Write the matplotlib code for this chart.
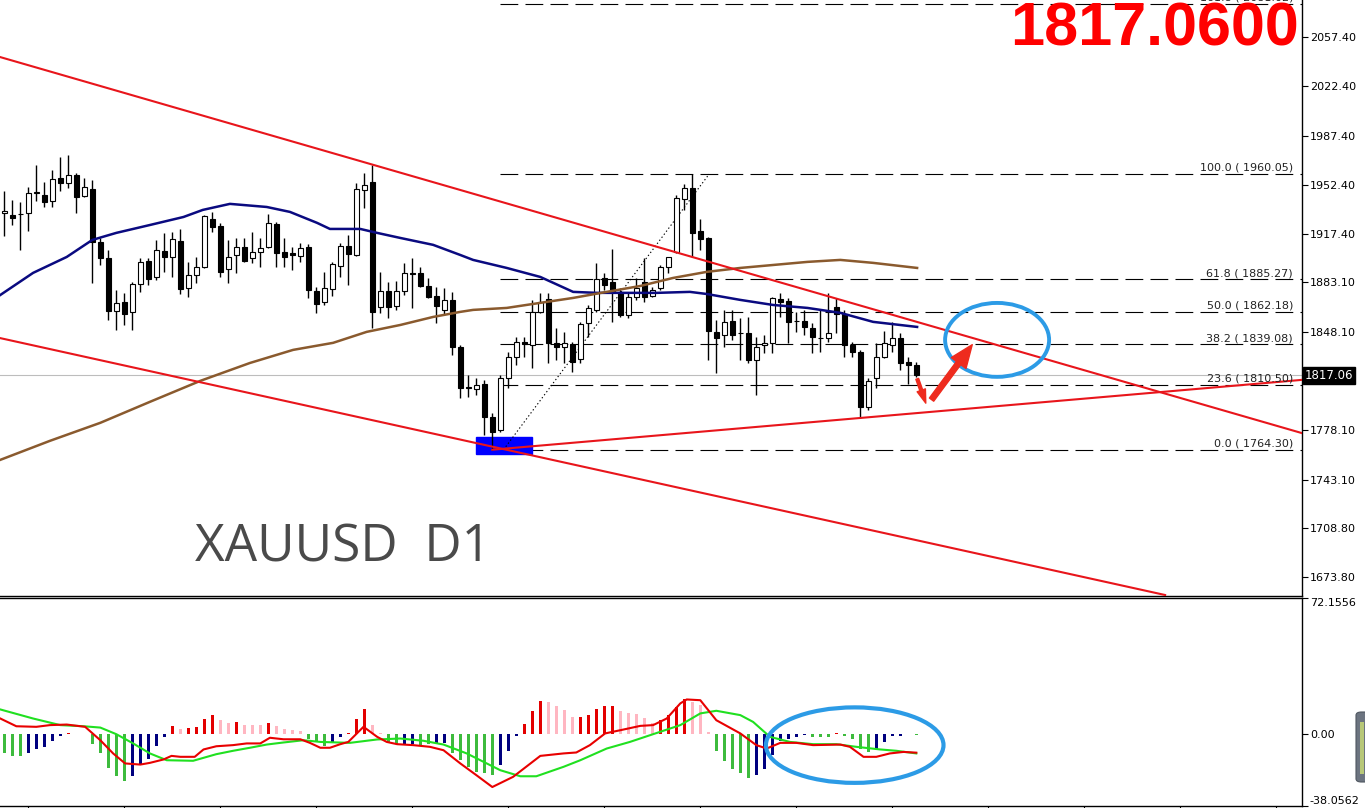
import matplotlib

matplotlib.use("Agg")
import matplotlib.pyplot as plt
import numpy as np
from matplotlib.patches import Rectangle, Ellipse, FancyArrowPatch, FancyBboxPatch

# ---------------- data ----------------
opens = [
    1932.5, 1931.0, 1932.0, 1932.5, 1946.7, 1945.2, 1941.0, 1957.3, 1953.8, 1959.4,
    1944.5, 1949.5, 1911.9, 1900.5, 1862.9, 1869.3, 1862.2, 1882.1, 1898.4, 1887.0,
    1905.5, 1901.2, 1912.6, 1879.2, 1888.5, 1894.1, 1928.2, 1923.2, 1892.7, 1902.6,
    1908.3, 1900.5, 1904.7, 1908.3, 1924.7, 1904.7, 1904.0, 1901.9, 1908.3, 1877.1,
    1869.3, 1878.5, 1894.8, 1909.0, 1902.6, 1948.8, 1954.5, 1865.7, 1877.1, 1866.4,
    1877.1, 1889.5, 1889.8, 1880.6, 1873.5, 1863.6, 1870.6, 1837.3, 1808.5, 1807.4,
    1811.0, 1787.5, 1778.3, 1815.3, 1830.2, 1840.8, 1838.7, 1862.2, 1871.4, 1840.1,
    1837.3, 1839.4, 1828.7, 1854.3, 1863.6, 1886.3, 1883.5, 1876.4, 1860.0, 1872.8,
    1883.5, 1873.5, 1879.2, 1894.1, 1904.7, 1942.4, 1950.2, 1919.6, 1914.7, 1847.9,
    1845.8, 1855.7, 1847.2, 1847.2, 1828.0, 1838.7, 1840.1, 1871.4, 1870.0, 1855.7,
    1855.7, 1850.8, 1843.9, 1843.7, 1865.7, 1860.7, 1838.7, 1833.7, 1794.6, 1815.3,
    1830.2, 1838.7, 1843.7, 1826.6, 1824.5,
]
highs = [
    1948.1, 1941.7, 1940.3, 1950.9, 1966.5, 1954.5, 1963.0, 1972.2, 1973.6, 1960.9,
    1957.3, 1955.9, 1914.7, 1906.2, 1877.8, 1875.7, 1883.5, 1900.5, 1900.5, 1913.3,
    1918.3, 1919.0, 1921.1, 1897.7, 1901.2, 1931.0, 1933.2, 1925.4, 1913.3, 1914.7,
    1914.7, 1919.0, 1914.7, 1931.7, 1926.1, 1914.7, 1908.3, 1911.2, 1910.4, 1879.9,
    1890.6, 1897.7, 1911.2, 1916.8, 1953.8, 1960.9, 1966.5, 1890.6, 1883.5, 1884.2,
    1897.0, 1900.5, 1894.1, 1886.3, 1879.9, 1879.2, 1876.4, 1838.7, 1817.4, 1815.3,
    1813.8, 1790.4, 1817.4, 1833.7, 1844.4, 1844.4, 1870.6, 1875.7, 1875.7, 1850.8,
    1847.9, 1840.8, 1855.0, 1867.1, 1897.0, 1889.8, 1906.9, 1879.2, 1875.7, 1886.3,
    1900.5, 1879.9, 1895.5, 1901.5, 1945.2, 1953.1, 1960.05, 1928.2, 1915.4, 1856.5,
    1863.6, 1863.6, 1857.9, 1858.6, 1844.4, 1845.8, 1872.8, 1875.7, 1872.1, 1862.2,
    1863.6, 1854.3, 1863.6, 1875.7, 1872.1, 1863.6, 1840.8, 1835.1, 1815.3, 1840.1,
    1848.6, 1855.0, 1847.2, 1830.2, 1826.6,
]
lows = [
    1916.1, 1924.0, 1906.2, 1919.7, 1941.0, 1936.7, 1936.7, 1948.1, 1950.2, 1932.5,
    1943.8, 1882.8, 1895.5, 1856.5, 1849.4, 1852.9, 1849.4, 1876.4, 1881.3, 1884.9,
    1890.6, 1887.0, 1874.9, 1872.8, 1882.8, 1893.5, 1919.0, 1887.0, 1882.8, 1889.8,
    1897.7, 1897.0, 1894.1, 1907.5, 1894.1, 1894.1, 1892.0, 1897.7, 1872.1, 1861.5,
    1867.1, 1873.5, 1887.0, 1881.3, 1901.9, 1936.0, 1850.8, 1861.5, 1857.9, 1863.6,
    1874.2, 1865.0, 1879.9, 1872.1, 1854.3, 1860.0, 1831.6, 1801.0, 1801.7, 1803.2,
    1774.8, 1764.3, 1776.9, 1808.1, 1824.5, 1830.2, 1822.3, 1861.5, 1825.9, 1828.0,
    1825.9, 1819.5, 1825.9, 1844.4, 1862.2, 1877.8, 1855.0, 1858.6, 1857.9, 1870.6,
    1869.3, 1872.8, 1877.8, 1889.8, 1904.0, 1934.6, 1901.2, 1906.2, 1828.0, 1818.8,
    1837.3, 1842.2, 1828.0, 1825.9, 1803.2, 1833.0, 1833.0, 1858.6, 1840.1, 1847.9,
    1845.8, 1833.0, 1833.7, 1840.8, 1847.2, 1830.2, 1830.2, 1786.8, 1792.5, 1808.1,
    1829.4, 1833.7, 1820.9, 1811.0, 1816.0,
]
closes = [
    1933.9, 1928.9, 1931.5, 1946.7, 1947.0, 1940.3, 1956.6, 1953.8, 1959.4, 1943.8,
    1950.9, 1911.9, 1900.5, 1862.9, 1868.6, 1860.8, 1882.1, 1897.7, 1885.6, 1906.2,
    1901.2, 1914.0, 1878.5, 1888.5, 1894.1, 1930.3, 1922.5, 1890.6, 1901.2, 1908.3,
    1898.4, 1904.7, 1907.6, 1925.4, 1904.0, 1901.2, 1902.6, 1907.6, 1877.8, 1867.8,
    1879.2, 1896.2, 1909.0, 1903.3, 1949.5, 1952.3, 1862.2, 1877.1, 1865.7, 1877.1,
    1889.8, 1889.0, 1880.6, 1872.8, 1866.4, 1870.6, 1837.3, 1808.1, 1808.0, 1810.3,
    1787.5, 1776.9, 1815.3, 1830.2, 1840.8, 1839.4, 1862.2, 1869.3, 1840.1, 1837.3,
    1840.1, 1826.6, 1853.6, 1865.0, 1885.6, 1881.3, 1876.4, 1860.0, 1872.8, 1879.2,
    1872.8, 1877.8, 1894.1, 1901.2, 1943.1, 1950.2, 1918.2, 1914.0, 1848.7, 1843.7,
    1855.0, 1845.8, 1847.0, 1828.0, 1837.3, 1840.1, 1872.1, 1869.3, 1855.0, 1855.4,
    1851.5, 1844.4, 1843.5, 1847.2, 1860.7, 1838.7, 1833.7, 1794.6, 1813.1, 1830.2,
    1840.1, 1843.7, 1825.9, 1824.5, 1817.06,
]

# moving averages sampled at bar positions
ma_fast_x = [-0.5, 3.6, 7.8, 11, 14, 18.2, 22.4, 24.8, 28.2, 32.8, 35.7, 39.1, 40.7,
             44.5, 46.6, 49.5, 53.6, 57, 58.6, 62.8, 67, 71.1, 74.1, 77.3, 81.6,
             85.7, 87.8, 92, 96.1, 100.4, 104.5, 108.6, 114.1]
ma_fast_y = [1874.2, 1889.9, 1901.2, 1913.3, 1918.3, 1923.9, 1929.6, 1934.6, 1938.9,
             1936.7, 1933.2, 1925.4, 1921.1, 1921.1, 1918.3, 1914.7, 1909.8, 1902.6,
             1899.1, 1893.4, 1887.0, 1876.4, 1875.7, 1875.7, 1875.7, 1876.4, 1874.9,
             1870.7, 1867.1, 1865.0, 1861.5, 1855.1, 1851.5]
ma_slow_x = [-0.5, 5.7, 12, 18.2, 24.5, 30.7, 36.1, 41.1, 45.3, 49.5, 53.6, 57, 58.6,
             62.8, 67, 71.1, 75.3, 79.5, 83.6, 87.8, 92, 96.1, 100.4, 104.5, 108.6, 114.1]
ma_slow_y = [1757.1, 1770.6, 1783.4, 1798.3, 1813.2, 1825.9, 1835.2, 1840.2, 1848.0,
             1852.9, 1858.6, 1862.2, 1863.6, 1865.0, 1868.6, 1872.1, 1876.4, 1880.6,
             1886.3, 1890.6, 1893.4, 1895.5, 1897.7, 1899.1, 1897.0, 1893.4]

# trend lines: (bar, price) end points
trend_upper = [(-0.54, 2043.2), (162.2, 1776.1)]
trend_lower = [(-0.54, 1843.6), (145.1, 1661.1)]
trend_support = [(61.0, 1764.3), (162.2, 1813.9)]

fib_pct = [161.8, 100.0, 61.8, 50.0, 38.2, 23.6, 0.0]
fib_price = [2081.02, 1960.05, 1885.27, 1862.18, 1839.08, 1810.50, 1764.30]
fib_start = 62.0
last_price = 1817.06

price_ticks = [2057.40, 2022.40, 1987.40, 1952.40, 1917.40, 1883.10, 1848.10,
               1813.10, 1778.10, 1743.10, 1708.80, 1673.80]

# MACD histogram and lines
macd_hist = [
    -9.9, -11.5, -11.5, -9.9, -7.8, -6.7, -3.5, -1.1, 0.7, 0.3,
    0.2, -5.3, -9.9, -17.8, -21.9, -24.7, -22.1, -16.4, -13.3, -6.2,
    -1.4, 4.2, 3.0, 3.4, 3.9, 7.9, 10.1, 7.4, 6.0, 6.5,
    5.1, 4.8, 4.6, 5.7, 4.4, 3.0, 2.1, 1.8, -2.3, -4.1,
    -6.4, -4.9, -1.4, 0.7, 8.3, 13.6, 5.1, 0.7, -4.9, -5.3,
    -5.3, -5.3, -5.8, -5.3, -4.9, -4.6, -10.2, -13.8, -17.3, -20.0,
    -20.6, -21.5, -16.1, -8.8, -0.9, 5.3, 12.4, 17.7, 16.8, 15.0,
    12.7, 9.2, 9.2, 10.1, 13.3, 14.8, 14.8, 12.4, 11.0, 10.6,
    8.7, 6.0, 7.4, 10.1, 14.5, 18.4, 17.1, 15.4, 1.2, -8.8,
    -14.1, -18.6, -20.8, -23.1, -21.4, -18.6, -10.8, -3.5, -2.7, -1.4,
    -0.5, -1.4, -1.4, -1.4, 0.4, -1.1, -2.8, -7.6, -9.4, -7.6,
    -4.1, -0.9, -0.9, 0.3, -0.4,
]
hist_kind = ("gggnnnnnrpp" "gggggnnnnn" "rprrrrpprpppr" "ppppgggnnrrrppggnnggnn"
             "ggggggnnnrrrpppprrrrrppppprrrrpppgggggnnnnnnngggrggggnnnnrg")
macd_x = [-0.5, 1.5, 4.0, 5.7, 7.8, 10.1, 12.0, 13.6, 15.1, 17.0, 18.2, 19.9, 20.9,
          22.0, 23.8, 24.9, 26.5, 28.6, 30.3, 32.0, 33.2, 34.9, 37.0, 38.2, 39.5,
          40.7, 42.0, 43.0, 44.9, 46.6, 47.8, 49.1, 51.1, 53.2, 54.9, 57.0, 59.0,
          61.0, 63.6, 67.0, 69.9, 71.5, 73.2, 75.1, 77.0, 79.5, 81.1, 82.8, 84.5,
          85.3, 87.0, 89.0, 92.0, 94.0, 95.3, 97.0, 99.0, 101.1, 104.5, 105.7,
          107.4, 109.0, 110.7, 112.4, 114.0]
macd_y = [8.3, 4.2, 3.9, 4.8, 5.1, 3.9, -3.2, -10.2, -15.5, -16.1, -15.2, -13.4, -11.5,
          -12.0, -12.0, -8.1, -6.4, -5.8, -4.9, -4.9, -1.9, -2.7, -2.7, -4.6, -7.2,
          -7.2, -5.3, -4.1, 3.9, -1.4, -4.1, -5.3, -5.8, -6.7, -8.5, -15.5, -21.7,
          -28.0, -22.6, -11.5, -10.2, -9.7, -5.8, 0.4, 2.1, 4.4, 4.8, 8.3, 16.3,
          18.4, 18.0, 7.4, 0.4, -5.8, -7.6, -4.6, -4.6, -5.8, -5.5, -6.7,
          -12.0, -12.0, -10.2, -9.4, -9.8]
signal_x = [-0.5, 3.6, 7.0, 9.9, 12.0, 14.0, 16.1, 18.2, 20.3, 23.6, 26.5, 28.6, 30.7,
            32.8, 34.9, 37.4, 39.5, 43.2, 46.6, 49.5, 52.4, 54.9, 57.8, 62.0, 64.5,
            66.5, 69.9, 72.0, 75.3, 78.2, 81.1, 84.5, 87.0, 89.0, 92.0, 93.6, 95.7,
            98.2, 101.1, 104.0, 106.5, 109.5, 111.5, 114.0]
signal_y = [13.1, 8.3, 4.8, 4.2, 3.5, 0.0, -4.9, -10.2, -13.8, -14.1, -10.6, -8.8, -7.2,
            -5.5, -4.4, -3.2, -4.1, -4.6, -2.8, -2.3, -3.5, -5.5, -10.2, -19.1, -22.3,
            -22.3, -17.3, -13.8, -7.6, -4.1, 0.0, 4.8, 11.0, 12.4, 10.1, 6.5, -1.4,
            -4.1, -5.3, -5.3, -6.7, -8.1, -8.8, -10.2]
macd_top, macd_bottom = 72.1556, -38.0562

# ---------------- figure ----------------
W, H = 1365, 808
fig = plt.figure(figsize=(W / 100, H / 100), dpi=100)
fig.patch.set_facecolor("white")


def fx(px):
    return px / W


def fy(py):
    return 1 - py / H


ax = fig.add_axes([0, fy(596), fx(1301.5), 596 / H])
ax2 = fig.add_axes([0, fy(806), fx(1301.5), (806 - 598) / H])

x = np.arange(len(opens))
o = np.array(opens)
c = np.array(closes)
up = c >= o
XMIN, XMAX = -0.54, 162.15

# current price line
ax.axhline(last_price, color="#BDBDBD", lw=0.8, zorder=1)

# fibonacci levels
for pct, lev in zip(fib_pct, fib_price):
    ax.plot([fib_start, XMAX], [lev, lev], color="black", lw=0.8,
            ls=(0, (16, 6.5)), zorder=1)
    ax.text(161.1, lev + 0.8, f"{pct:.1f} ( {lev:.2f})", ha="right", va="bottom",
            fontsize=8, color="#222222", zorder=6, clip_on=True)

# blue marker box at the swing low
ax.add_patch(Rectangle((59.0, 1761.3), 7.0, 12.1, facecolor="#0000FF",
                       edgecolor="#0000FF", zorder=2))

# fib anchor (dotted)
ax.plot([62.4, 88.1], [1764.3, 1960.05], color="black", lw=0.8, ls=(0, (1.2, 2.2)), zorder=2)

# candles
ax.vlines(x, lows, highs, color="black", lw=1.0, zorder=3)
body = np.where(np.abs(c - o) < 0.4, 0.4, np.abs(c - o))
ax.bar(x, body, bottom=np.minimum(o, c), width=0.6,
       color=np.where(up, "white", "black"), edgecolor="black", linewidth=0.8, zorder=3)

# moving averages
ax.plot(ma_fast_x, ma_fast_y, color="#0A0A80", lw=1.8, zorder=4)
ax.plot(ma_slow_x, ma_slow_y, color="#8A5A2E", lw=1.8, zorder=4)

# trend lines
for (x0, y0), (x1, y1) in (trend_upper, trend_lower, trend_support):
    ax.plot([x0, x1], [y0, y1], color="#E8151B", lw=1.5, zorder=5)

# target ellipse and arrows
ax.add_patch(Ellipse((124.1, 1842.3), 13.0, 52.5, fill=False, edgecolor="#2C9BE6",
                     lw=2.8, zorder=6))
ax.add_patch(FancyArrowPatch((114.0, 1816.5), (115.3, 1795.5),
                             arrowstyle="simple,head_length=1.4,head_width=0.9,tail_width=0.3",
                             mutation_scale=7, color="#EE2B1E", zorder=7))
ax.add_patch(FancyArrowPatch((115.7, 1798.3), (121.2, 1840.5),
                             arrowstyle="simple,head_length=1.5,head_width=1.2,tail_width=0.35",
                             mutation_scale=11, color="#EE2B1E", zorder=7))

ax.set_xlim(XMIN, XMAX)
ax.set_ylim(1660.4, 2083.7)
ax.yaxis.tick_right()
ax.set_yticks(price_ticks)
ax.set_yticklabels([f"{t:.2f}" for t in price_ticks])
ax.tick_params(axis="y", direction="out", length=4, width=0.8, labelsize=8, pad=2)
ax.tick_params(axis="x", bottom=False, labelbottom=False)
for side in ("left", "top"):
    ax.spines[side].set_visible(False)
ax.spines["right"].set_linewidth(1.0)
ax.spines["bottom"].set_linewidth(1.0)

# last price tag
ax.text(1.0025, last_price, "1817.06", transform=ax.get_yaxis_transform(), ha="left",
        va="center", fontsize=8.5, color="white", zorder=10, clip_on=False,
        bbox=dict(boxstyle="square,pad=0.18", facecolor="black", edgecolor="black"))

# ---------------- MACD panel ----------------
colour_of = {"g": "#3DBB3D", "n": "#00007F", "r": "#E30000", "p": "#FFB6C1"}
ax2.bar(x, macd_hist, width=0.42, color=[colour_of[k] for k in hist_kind], zorder=2)
ax2.plot(signal_x, signal_y, color="#20E020", lw=1.5, zorder=3)
ax2.plot(macd_x, macd_y, color="#E80000", lw=1.5, zorder=4)
ax2.add_patch(Ellipse((106.3, -5.8), 22.2, 40.0, fill=False, edgecolor="#2C9BE6",
                      lw=3.0, zorder=6))

ax2.set_xlim(XMIN, XMAX)
ax2.set_ylim(macd_bottom, macd_top)
ax2.yaxis.tick_right()
ax2.set_yticks([macd_top, 0, macd_bottom])
ax2.set_yticklabels(["72.1556", "0.00", "-38.0562"])
ax2.tick_params(axis="y", direction="out", length=4, width=0.8, labelsize=8, pad=2)
lbl = ax2.get_yticklabels()
lbl[0].set_va("top")
lbl[2].set_va("bottom")
ax2.set_xticks(np.arange(3, 162, 12))
ax2.tick_params(axis="x", direction="out", length=3, width=0.8, labelbottom=False)
ax2.spines["left"].set_visible(False)
for side in ("top", "right", "bottom"):
    ax2.spines[side].set_linewidth(1.0)

# ---------------- overlay texts ----------------
fig.text(fx(1299), fy(45), "1817.0600", ha="right", va="baseline", fontsize=44,
         fontweight="bold", family=["Liberation Sans", "DejaVu Sans"], color="#FF0000")
fig.text(fx(195), fy(562), "XAUUSD  D1", ha="left", va="baseline", fontsize=37,
         family=["Open Sans", "DejaVu Sans"], color="#4A4A4A")

# small toolbar widget at the right edge of the indicator panel
fig.add_artist(FancyBboxPatch((fx(1356), fy(782)), fx(14), (782 - 712) / H,
                              boxstyle="round,pad=0,rounding_size=0.004",
                              transform=fig.transFigure, facecolor="#6C7480",
                              edgecolor="#4F5660", lw=0.8))
fig.add_artist(Rectangle((fx(1360), fy(774)), fx(4), (774 - 722) / H,
                         transform=fig.transFigure, facecolor="#B8C878", edgecolor="none"))

fig.savefig("out.png", dpi=100, facecolor="white")
plt.close(fig)
